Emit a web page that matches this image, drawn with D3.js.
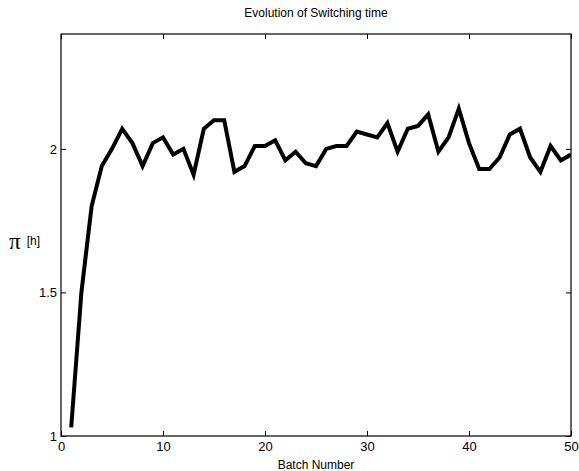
<!DOCTYPE html>
<html><head><meta charset="utf-8">
<script src="https://cdn.jsdelivr.net/npm/d3@7"></script>
<style>body{margin:0;background:#fff}svg{display:block}text{font-family:"Liberation Sans",Arial,sans-serif}</style>
</head><body><svg id="c" width="579" height="471"></svg>
<script>
const batches = d3.range(1, 51);
const switchingTime = [1.03,1.50,1.80,1.94,2.00,2.07,2.02,1.94,2.02,2.04,1.98,2.00,1.91,2.07,2.10,2.10,1.92,1.94,2.01,2.01,
2.03,1.96,1.99,1.95,1.94,2.00,2.01,2.01,2.06,2.05,2.04,2.09,1.99,2.07,2.08,2.12,1.99,2.04,2.14,2.02,
1.93,1.93,1.97,2.05,2.07,1.97,1.92,2.01,1.96,1.98];
const xTicks = [0,10,20,30,40,50];
const yTicks = [1,1.5,2];

const L=61,R=571,T=34,B=436;
const svg=d3.select("#c");
const x=d3.scaleLinear().domain([0,50]).range([L,R]);
const y=d3.scaleLinear().domain([1,2.4]).range([B,T]);

svg.append("defs").append("clipPath").attr("id","clip").append("rect").attr("x",L).attr("y",T).attr("width",R-L).attr("height",B-T);

const gx=svg.append("g").attr("transform",`translate(0,${B})`).call(d3.axisBottom(x).tickValues(xTicks).tickSizeInner(-5).tickSizeOuter(0).tickPadding(6));
const gxt=svg.append("g").attr("transform",`translate(0,${T})`).call(d3.axisTop(x).tickValues(xTicks).tickSizeInner(-5).tickSizeOuter(0).tickFormat(""));
const gy=svg.append("g").attr("transform",`translate(${L},0)`).call(d3.axisLeft(y).tickValues(yTicks).tickSizeInner(-5).tickSizeOuter(0).tickPadding(4).tickFormat(d3.format("")));
const gyr=svg.append("g").attr("transform",`translate(${R},0)`).call(d3.axisRight(y).tickValues(yTicks).tickSizeInner(-5).tickSizeOuter(0).tickFormat(""));
[gx,gxt,gy,gyr].forEach(g=>{g.select(".domain").remove();g.selectAll("line").attr("stroke","#000");g.selectAll("text").attr("font-size",13).attr("fill","#000").attr("font-family","Liberation Sans, Arial, sans-serif");});

svg.append("rect").attr("x",L).attr("y",T).attr("width",R-L).attr("height",B-T).attr("fill","none").attr("stroke","#000").attr("stroke-width",1.2);

svg.append("path").datum(switchingTime).attr("clip-path","url(#clip)")
 .attr("fill","none").attr("stroke","#000").attr("stroke-width",4).attr("stroke-linejoin","miter")
 .attr("d",d3.line().x((d,i)=>x(batches[i])).y(d=>y(d)));

svg.append("text").attr("x",316).attr("y",17).attr("text-anchor","middle").attr("font-size",12).text("Evolution of Switching time");
svg.append("text").attr("x",316).attr("y",469).attr("text-anchor","middle").attr("font-size",12).text("Batch Number");
const yl=svg.append("text").attr("x",9).attr("y",249);
yl.append("tspan").attr("font-size",23).attr("font-family","Liberation Serif, serif").text("π");
yl.append("tspan").attr("font-size",12).attr("dx",6).attr("dy",-4).text("[h]");
</script></body></html>
